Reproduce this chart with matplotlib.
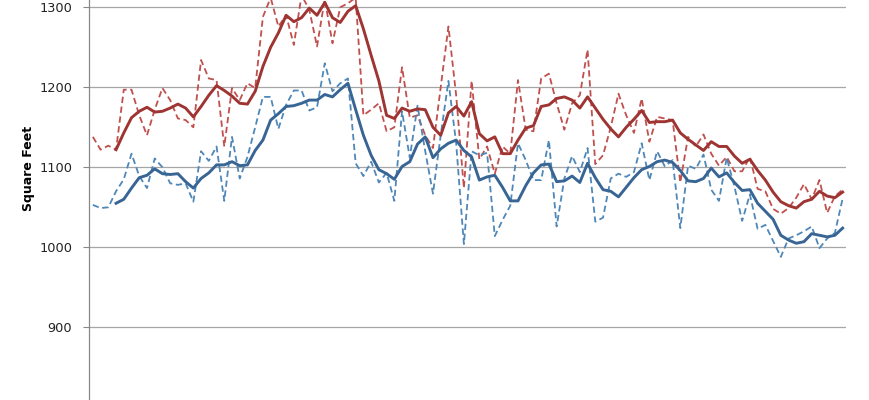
import numpy as np
import matplotlib
matplotlib.use("Agg")
import matplotlib.pyplot as plt

# monthly values (dashed) and smoothed values (solid)
red_monthly = [1138, 1122, 1127, 1122, 1197, 1197, 1165, 1140, 1172, 1199,
               1184, 1161, 1159, 1150, 1234, 1211, 1209, 1126, 1199, 1184,
               1205, 1199, 1288, 1312, 1276, 1290, 1253, 1315, 1297, 1251,
               1310, 1255, 1300, 1305, 1312, 1165, 1172, 1180, 1145, 1150,
               1225, 1162, 1165, 1140, 1124, 1200, 1276, 1190, 1074, 1208,
               1110, 1126, 1092, 1126, 1117, 1209, 1147, 1145, 1211, 1217,
               1180, 1147, 1180, 1190, 1247, 1104, 1115, 1150, 1192, 1165,
               1143, 1186, 1132, 1163, 1161, 1159, 1081, 1138, 1126, 1141,
               1117, 1102, 1113, 1095, 1095, 1113, 1073, 1070, 1048, 1042,
               1049, 1062, 1079, 1060, 1084, 1043, 1064, 1072]

blue_monthly = [1053, 1049, 1050, 1070, 1085, 1117, 1089, 1074, 1111, 1100,
                1080, 1078, 1080, 1057, 1120, 1108, 1126, 1058, 1138, 1086,
                1113, 1150, 1188, 1188, 1148, 1178, 1196, 1196, 1171, 1175,
                1230, 1195, 1205, 1211, 1105, 1089, 1107, 1081, 1093, 1058,
                1170, 1112, 1177, 1120, 1067, 1140, 1208, 1130, 1004, 1120,
                1115, 1118, 1014, 1034, 1052, 1130, 1109, 1084, 1084, 1134,
                1026, 1086, 1114, 1094, 1124, 1032, 1037, 1086, 1092, 1088,
                1094, 1130, 1084, 1120, 1101, 1109, 1024, 1102, 1098, 1116,
                1072, 1058, 1112, 1076, 1033, 1066, 1023, 1028, 1008, 988,
                1011, 1015, 1020, 1026, 999, 1011, 1018, 1061]

# smoothed lines begin at the 4th month
red_smooth = [1122, 1143, 1162, 1170, 1175, 1169, 1170, 1174, 1179, 1174,
              1163, 1176, 1190, 1202, 1196, 1189, 1180, 1179, 1195, 1226,
              1250, 1268, 1290, 1282, 1287, 1299, 1290, 1306, 1287, 1281,
              1295, 1302, 1273, 1240, 1208, 1165, 1161, 1174, 1170, 1173,
              1172, 1150, 1140, 1168, 1176, 1164, 1182, 1142, 1133, 1138,
              1117, 1117, 1134, 1149, 1152, 1176, 1178, 1186, 1188, 1184,
              1174, 1188, 1174, 1160, 1148, 1138, 1150, 1160, 1171, 1156,
              1157, 1157, 1159, 1143, 1135, 1128, 1121, 1132, 1126, 1126,
              1114, 1105, 1110, 1096, 1084, 1069, 1057, 1052, 1049, 1057,
              1060, 1070, 1064, 1062, 1069]

blue_smooth = [1055, 1060, 1074, 1087, 1090, 1098, 1092, 1091, 1092, 1082,
               1074, 1086, 1093, 1103, 1103, 1107, 1102, 1103, 1121, 1134,
               1159, 1167, 1176, 1177, 1180, 1184, 1184, 1191, 1188, 1197,
               1205, 1172, 1140, 1115, 1097, 1092, 1085, 1101, 1107, 1129,
               1138, 1112, 1123, 1130, 1134, 1121, 1113, 1084, 1088, 1090,
               1075, 1058, 1058, 1077, 1093, 1103, 1104, 1082, 1083, 1089,
               1081, 1105, 1087, 1072, 1070, 1063, 1075, 1087, 1097, 1101,
               1107, 1109, 1106, 1096, 1083, 1082, 1086, 1099, 1088, 1093,
               1081, 1071, 1072, 1055, 1045, 1035, 1015, 1009, 1005, 1007,
               1017, 1015, 1013, 1015, 1024]

y_ticks = [900, 1000, 1100, 1200, 1300]

x_month = np.arange(len(red_monthly))
x_smooth = np.arange(len(red_monthly) - len(red_smooth), len(red_monthly))

fig = plt.figure(figsize=(8.7, 4), dpi=100)
ax = fig.add_axes([89 / 870, 0, 757.5 / 870, 1])

ax.plot(x_month, red_monthly, color='#C0504D', lw=1.3, dashes=(3.5, 2))
ax.plot(x_month, blue_monthly, color='#4F87B8', lw=1.3, dashes=(3.5, 2))
ax.plot(x_smooth, red_smooth, color='#9E3532', lw=2.1)
ax.plot(x_smooth, blue_smooth, color='#386594', lw=2.1)

ax.set_xlim(-0.5, len(red_monthly) - 0.5)
ax.set_ylim(809.1, 1309.1)
ax.set_yticks(y_ticks)
ax.set_yticklabels([str(t) for t in y_ticks], fontsize=9.3, color='#222222')
ax.tick_params(axis='y', length=4, width=0.8, color='#888888', pad=8)
ax.set_xticks([])

ax.grid(axis='y', color='#A6A6A6', lw=0.9)
ax.set_axisbelow(True)
for side in ['top', 'right', 'bottom']:
    ax.spines[side].set_visible(False)
ax.spines['left'].set_color('#888888')
ax.spines['left'].set_linewidth(0.9)

ax.set_ylabel('Square Feet', fontsize=9, fontweight='bold')
ax.yaxis.set_label_coords(-0.071, 0.58)

fig.savefig('out.png', dpi=100)
